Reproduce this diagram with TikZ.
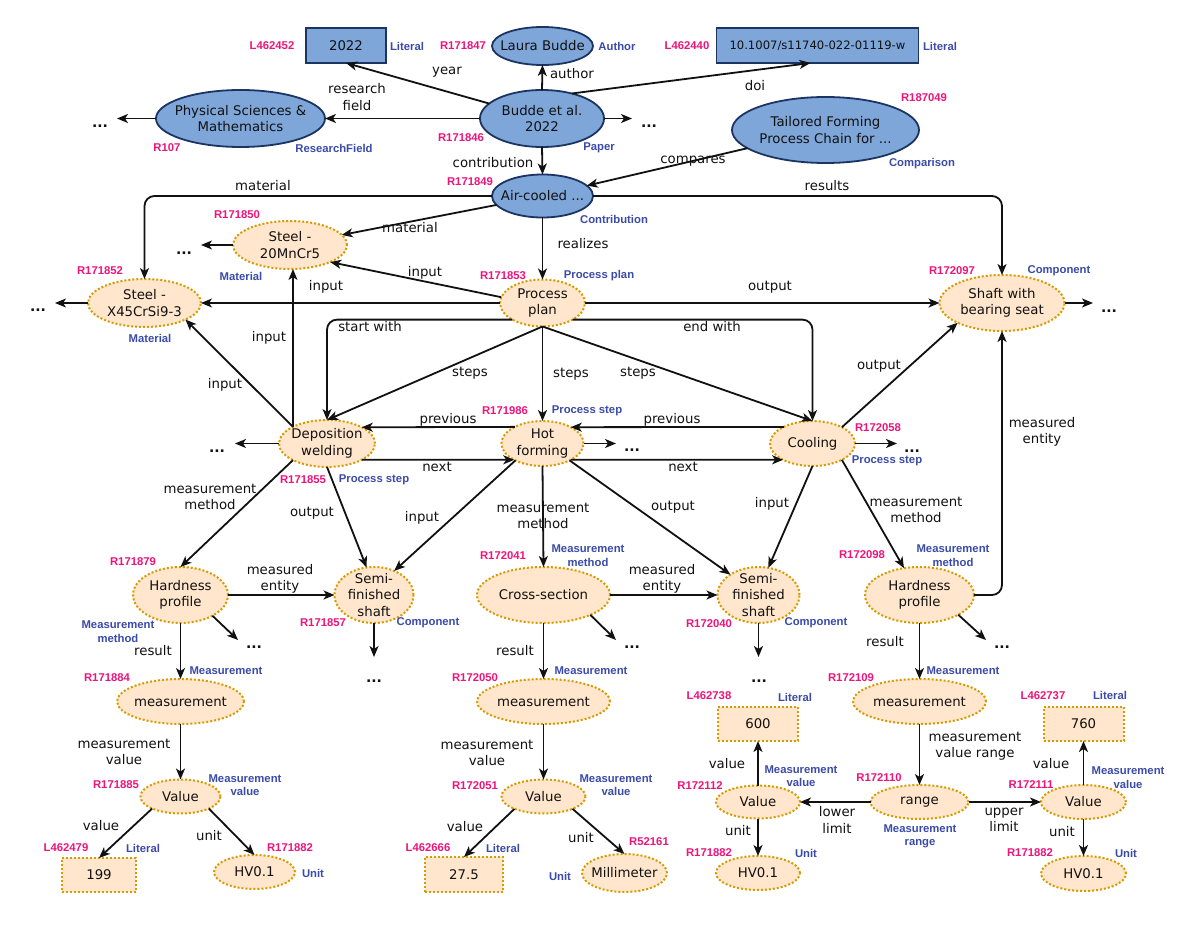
\documentclass[tikz,border=0pt]{standalone}
\usepackage{fontspec}
\setmainfont{DejaVu Sans}
\newfontfamily\idfont{Liberation Sans}
\usetikzlibrary{shapes.geometric,arrows.meta}
\definecolor{bfill}{HTML}{7EA6D9}
\definecolor{bdraw}{HTML}{1C3462}
\definecolor{ofill}{HTML}{FFE6CC}
\definecolor{odraw}{HTML}{D79B00}
\definecolor{idpink}{HTML}{EC157C}
\definecolor{clsblue}{HTML}{3B4BA8}
\definecolor{ink}{HTML}{111111}
\newcommand\mkn[7]{\node[#2, minimum width=#5, minimum height=#6] (#1) at (#3,#4) {}; \node[txt] (#1-t) at (#1.center) {#7};}
\begin{document}
\begin{tikzpicture}[x=1pt,y=-1pt,
  txt/.style={font=\fontsize{13.3}{16.5}\selectfont, align=center, inner sep=0pt, text=ink},
  lbl/.style={font=\fontsize{13.3}{16.5}\selectfont, align=center, inner sep=0pt, text=ink},
  rid/.style={font=\idfont\bfseries\fontsize{11.3}{13.5}\selectfont, text=idpink, inner sep=0pt},
  cls/.style={font=\idfont\bfseries\fontsize{11.3}{13.5}\selectfont, text=clsblue, inner sep=0pt, align=center},
  blueell/.style={ellipse, draw=bdraw, fill=bfill, line width=1.8pt, inner sep=0pt, outer sep=0pt},
  bluerect/.style={rectangle, draw=bdraw, fill=bfill, line width=1.8pt, inner sep=0pt, outer sep=0pt},
  orell/.style={ellipse, draw=odraw, fill=ofill, line width=2pt, dash pattern=on 2pt off 2pt, inner sep=0pt, outer sep=0pt},
  orrect/.style={rectangle, draw=odraw, fill=ofill, line width=2pt, dash pattern=on 2pt off 2pt, inner sep=0pt, outer sep=0pt},
  conn/.style={line width=1.8pt, draw=ink, -{Stealth[length=11pt,width=9pt,inset=3pt]}},
  dotsn/.style={font=\bfseries\fontsize{14}{14}\selectfont, inner sep=0pt, anchor=base, text=ink},
]
\useasboundingbox[fill=white] (0,0) rectangle (1200,925);

% ---------- blue nodes ----------
\mkn{y2022}{bluerect}{346}{45.5}{80}{35}{2022}
\mkn{laura}{blueell}{542.5}{46}{101}{38}{Laura Budde}
\mkn{doi}{bluerect}{817.5}{45.5}{202}{35}{\fontsize{11.6}{14}\selectfont 10.1007/s11740-022-01119-w}
\mkn{bud}{blueell}{542}{118.5}{124}{57}{Budde et al.\\2022}
\mkn{phys}{blueell}{240.5}{118.5}{169}{57}{Physical Sciences \&\\Mathematics}
\mkn{tail}{blueell}{825.5}{130}{187}{66}{Tailored Forming\\Process Chain for ...}
\mkn{air}{blueell}{542.5}{196}{101}{43}{Air-cooled ...}

% ---------- orange nodes ----------
\mkn{steel20}{orell}{290}{245}{114}{48}{Steel -\\20MnCr5}
\mkn{x45}{orell}{144.5}{303}{113}{48}{Steel -\\X45CrSi9-3}
\mkn{pp}{orell}{542.5}{303}{85}{47}{Process\\plan}
\mkn{shaft}{orell}{1002}{303}{125}{56}{Shaft with\\bearing seat}
\mkn{dep}{orell}{327}{443.5}{96}{47}{Deposition\\welding}
\mkn{hot}{orell}{542.5}{443.5}{82}{45}{Hot\\forming}
\mkn{cool}{orell}{812.5}{443.5}{85}{45}{Cooling}
\mkn{hp1}{orell}{180.5}{595}{95}{56}{Hardness\\profile}
\mkn{semi1}{orell}{374}{595}{79}{56}{Semi-\\finished\\shaft}
\mkn{cross}{orell}{543.5}{595}{133}{56}{Cross-section}
\mkn{semi2}{orell}{758.5}{595}{82}{56}{Semi-\\finished\\shaft}
\mkn{hp2}{orell}{919.5}{595}{109}{56}{Hardness\\profile}
\mkn{meas1}{orell}{180.5}{701.5}{127}{45}{measurement}
\mkn{meas2}{orell}{543.5}{701.5}{133}{45}{measurement}
\mkn{meas3}{orell}{919.5}{701.5}{133}{45}{measurement}
\mkn{val1}{orell}{180.5}{796.5}{80}{34}{Value}
\mkn{val2}{orell}{543.5}{796.5}{84}{34}{Value}
\mkn{val3}{orell}{758}{802}{84}{33}{Value}
\mkn{range}{orell}{919.5}{802}{98}{34}{range}
\mkn{val4}{orell}{1083.5}{802}{85}{34}{Value}
\mkn{lit199}{orrect}{99}{875}{74}{34}{199}
\mkn{lit275}{orrect}{464}{874.5}{78}{35}{27.5}
\mkn{lit600}{orrect}{758}{724}{80}{34}{600}
\mkn{lit760}{orrect}{1083.5}{724}{80}{34}{760}
\mkn{hv1}{orell}{254.5}{872}{81}{34}{HV0.1}
\mkn{mm}{orell}{624.5}{873}{85}{38}{Millimeter}
\mkn{hv2}{orell}{758}{873}{84}{34}{HV0.1}
\mkn{hv3}{orell}{1083.5}{873.5}{85}{35}{HV0.1}

% ---------- "..." nodes and arrow tips ----------
\node[dotsn] (dPh) at (100,127.5) {...};
\node[dotsn] (dBu) at (649,127.5) {...};
\node[dotsn] (dS20) at (184,254.5) {...};
\node[dotsn] (dX45) at (38,311.5) {...};
\node[dotsn] (dSh) at (1109,312.5) {...};
\node[dotsn] (dDe) at (217,452.5) {...};
\node[dotsn] (dHo) at (632,451.5) {...};
\node[dotsn] (dCo) at (912,452.5) {...};
\node[dotsn] (dH1) at (254,648.5) {...};
\node[dotsn] (dS1) at (374,682.5) {...};
\node[dotsn] (dCr) at (632,648.5) {...};
\node[dotsn] (dS2) at (759,682.5) {...};
\node[dotsn] (dH2) at (1002,648.5) {...};
\coordinate (tPh) at (117,118.5);
\coordinate (tBu) at (632,118.5);
\coordinate (tS20) at (201,245);
\coordinate (tX45) at (55,303);
\coordinate (tSh) at (1093,303);
\coordinate (tDe) at (235,443.5);
\coordinate (tHo) at (616,443.5);
\coordinate (tCo) at (897,443.5);
\coordinate (tH1) at (238,640);
\coordinate (tCr) at (616,640);
\coordinate (tH2) at (986,640);
\coordinate (tS1) at (374,657);
\coordinate (tS2) at (758.5,657);

% ---------- connectors ----------
\draw[conn] (bud) -- (y2022.south);
\draw[conn] (bud.north) -- (laura.south);
\draw[conn] (bud.40) -- ([xshift=-7pt]doi.south);
\draw[conn] (bud.west) -- (phys.east);
\draw[conn] (phys.west) -- (tPh);
\draw[conn] (bud.east) -- (tBu);
\draw[conn] (bud.south) -- (air.north);
\draw[conn] (tail) -- (air);
\draw[conn, rounded corners=10pt] (air.east) -| (shaft.north);
\draw[conn, rounded corners=10pt] (air.west) -| (x45.north);
\draw[conn] (air) -- (steel20);
\draw[conn] (steel20.west) -- (tS20);
\draw[conn] (x45.west) -- (tX45);
\draw[conn] (air.south) -- (pp.north);
\draw[conn] (pp.172) -- (steel20.-23);
\draw[conn] (pp.west) -- (x45.east);
\draw[conn] (pp.east) -- (shaft.west);
\draw[conn] (shaft.east) -- (tSh);
\draw[conn, rounded corners=10pt] (pp.209) -| (dep.north);
\draw[conn, rounded corners=10pt] (pp.331) -| (cool.north);
\draw[conn] (pp.south) -- (dep.north);
\draw[conn] (pp.south) -- (hot.north);
\draw[conn] (pp.south) -- (cool.north);
\draw[conn] (dep.154) -- (dep.154 |- steel20.south);
\draw[conn] (dep.154) -- (x45.-22);
\draw[conn] (hot.149.4) -- (dep.25.8);
\draw[conn] (dep.-25.8) -- (hot.210.6);
\draw[conn] (cool.150.3) -- (hot.30.6);
\draw[conn] (hot.-30.6) -- (cool.209.7);
\draw[conn] (dep.west) -- (tDe);
\draw[conn] (hot.east) -- (tHo);
\draw[conn] (cool.east) -- (tCo);
\draw[conn] (cool.29.7) -- (shaft.204);
\draw[conn, rounded corners=10pt] (hp2.east) -| (shaft.south);
\draw[conn] (dep.206) -- (hp1.north);
\draw[conn] (dep.south) -- (semi1.105);
\draw[conn] (hot.212) -- (semi1.50);
\draw[conn] (hot.south) -- (cross.north);
\draw[conn] (hot.-32) -- (semi2.144.5);
\draw[conn] (cool.south) -- (semi2.70);
\draw[conn] (cool.-29.7) -- (hp2.120);
\draw[conn] (hp1.east) -- (semi1.west);
\draw[conn] (cross.east) -- (semi2.west);
\draw[conn] (hp1.-33) -- (tH1);
\draw[conn] (cross.-23) -- (tCr);
\draw[conn] (hp2.-27.5) -- (tH2);
\draw[conn] (semi1.south) -- (tS1);
\draw[conn] (semi2.south) -- (tS2);
\draw[conn] (hp1.south) -- (meas1.north);
\draw[conn] (meas1.south) -- (val1.north);
\draw[conn] (val1.203) -- (lit199.north);
\draw[conn] (val1.-23) -- (hv1.north);
\draw[conn] (cross.south) -- (meas2.north);
\draw[conn] (meas2.south) -- (val2.north);
\draw[conn] (val2.203) -- (lit275.north);
\draw[conn] (val2.-23) -- (mm.north);
\draw[conn] (val3.north) -- (lit600.south);
\draw[conn] (val3.south) -- (hv2.north);
\draw[conn] (hp2.south) -- (meas3.north);
\draw[conn] (meas3.south) -- (range.north);
\draw[conn] (range.west) -- (val3.east);
\draw[conn] (range.east) -- (val4.west);
\draw[conn] (val4.north) -- (lit760.south);
\draw[conn] (val4.south) -- (hv3.north);

% ---------- connector labels ----------
\node[lbl] (l1) at (447,72) {year};
\node[lbl] (l2) at (572,74) {author};
\node[lbl] (l3) at (755,86) {doi};
\node[lbl] (l4) at (357,97) {research\\field};
\node[lbl] (l5) at (493,163) {contribution};
\node[lbl] (l6) at (693,161) {compares};
\node[lbl] (l7) at (263,186) {material};
\node[lbl] (l8) at (410,228) {material};
\node[lbl] (l9) at (827,186) {results};
\node[lbl] (l10) at (583,244) {realizes};
\node[lbl] (l11) at (425,273) {input};
\node[lbl] (l12) at (326,287) {input};
\node[lbl] (l13) at (770,287) {output};
\node[lbl] (l14) at (370,327) {start with};
\node[lbl] (l15) at (712,327) {end with};
\node[lbl] (l16) at (470,373) {steps};
\node[lbl] (l17) at (571,374) {steps};
\node[lbl] (l18) at (638,373) {steps};
\node[lbl] (l19) at (269,338) {input};
\node[lbl] (l20) at (225,385) {input};
\node[lbl] (l21) at (448,420) {previous};
\node[lbl] (l22) at (672,420) {previous};
\node[lbl] (l23) at (437,467) {next};
\node[lbl] (l24) at (683,467) {next};
\node[lbl] (l25) at (879,366) {output};
\node[lbl] (l26) at (1042,432) {measured\\entity};
\node[lbl] (l27) at (210,497) {measurement\\method};
\node[lbl] (l28) at (312,513) {output};
\node[lbl] (l29) at (422,518) {input};
\node[lbl] (l30) at (543,516) {measurement\\method};
\node[lbl] (l31) at (673,507) {output};
\node[lbl] (l32) at (772,504) {input};
\node[lbl] (l33) at (916,510) {measurement\\method};
\node[lbl] (l34) at (280,579) {measured\\entity};
\node[lbl] (l35) at (662,579) {measured\\entity};
\node[lbl] (l36) at (153,651) {result};
\node[lbl] (l37) at (515,651) {result};
\node[lbl] (l38) at (885,642) {result};
\node[lbl] (l39) at (124,752) {measurement\\value};
\node[lbl] (l40) at (487,753) {measurement\\value};
\node[lbl] (l41) at (975,746) {measurement\\value range};
\node[lbl] (l42) at (101,826) {value};
\node[lbl] (l43) at (209,836) {unit};
\node[lbl] (l44) at (465,827) {value};
\node[lbl] (l45) at (581,838) {unit};
\node[lbl] (l46) at (727,764) {value};
\node[lbl] (l47) at (738,831) {unit};
\node[lbl] (l48) at (837,820) {lower\\limit};
\node[lbl] (l49) at (1004,820) {upper\\limit};
\node[lbl] (l50) at (1051,764) {value};
\node[lbl] (l51) at (1062,832) {unit};

% ---------- identifiers ----------
\node[rid] (i1) at (272,46) {L462452};
\node[rid] (i2) at (463,46) {R171847};
\node[rid] (i3) at (687,46) {L462440};
\node[rid] (i4) at (461,138) {R171846};
\node[rid] (i5) at (167,148) {R107};
\node[rid] (i6) at (924,98) {R187049};
\node[rid] (i7) at (470,182) {R171849};
\node[rid] (i8) at (237,215) {R171850};
\node[rid] (i9) at (100,271) {R171852};
\node[rid] (i10) at (503,276) {R171853};
\node[rid] (i11) at (952,271) {R172097};
\node[rid] (i12) at (505,411) {R171986};
\node[rid] (i13) at (303,480) {R171855};
\node[rid] (i14) at (878,428) {R172058};
\node[rid] (i15) at (133,562) {R171879};
\node[rid] (i16) at (323,623) {R171857};
\node[rid] (i17) at (503,556) {R172041};
\node[rid] (i18) at (709,624) {R172040};
\node[rid] (i19) at (862,555) {R172098};
\node[rid] (i20) at (107,678) {R171884};
\node[rid] (i21) at (475,678) {R172050};
\node[rid] (i22) at (851,678) {R172109};
\node[rid] (i23) at (116,785) {R171885};
\node[rid] (i24) at (66,848) {L462479};
\node[rid] (i25) at (290,848) {R171882};
\node[rid] (i26) at (475,786) {R172051};
\node[rid] (i27) at (428,848) {L462666};
\node[rid] (i28) at (649,842) {R52161};
\node[rid] (i29) at (709,696) {L462738};
\node[rid] (i30) at (700,786) {R172112};
\node[rid] (i31) at (709,853) {R171882};
\node[rid] (i32) at (1043,696) {L462737};
\node[rid] (i33) at (879,778) {R172110};
\node[rid] (i34) at (1031,785) {R172111};
\node[rid] (i35) at (1030,853) {R171882};

% ---------- classes ----------
\node[cls] (c1) at (407,46) {Literal};
\node[cls] (c2) at (617,46) {Author};
\node[cls] (c3) at (940,46) {Literal};
\node[cls] (c4) at (599,148) {Paper};
\node[cls] (c5) at (334,148) {ResearchField};
\node[cls] (c6) at (922,164) {Comparison};
\node[cls] (c7) at (614,219) {Contribution};
\node[cls] (c8) at (241,276) {Material};
\node[cls] (c9) at (150,338) {Material};
\node[cls] (c10) at (599,276) {Process plan};
\node[cls] (c11) at (1059,271) {Component};
\node[cls] (c12) at (587,411) {Process step};
\node[cls] (c13) at (374,480) {Process step};
\node[cls] (c14) at (887,461) {Process step};
\node[cls] (c15) at (118,631.5) {Measurement\\method};
\node[cls] (c16) at (428,623) {Component};
\node[cls] (c17) at (588,555.5) {Measurement\\method};
\node[cls] (c18) at (816,623) {Component};
\node[cls] (c19) at (953,555.5) {Measurement\\method};
\node[cls] (c20) at (226,671) {Measurement};
\node[cls] (c21) at (591,671) {Measurement};
\node[cls] (c22) at (963,671) {Measurement};
\node[cls] (c23) at (245,785) {Measurement\\value};
\node[cls] (c24) at (143,848) {Literal};
\node[cls] (c25) at (313,873) {Unit};
\node[cls] (c26) at (616,785) {Measurement\\value};
\node[cls] (c27) at (503,848) {Literal};
\node[cls] (c28) at (560,876) {Unit};
\node[cls] (c29) at (795,697) {Literal};
\node[cls] (c30) at (801,776) {Measurement\\value};
\node[cls] (c31) at (806,853) {Unit};
\node[cls] (c32) at (1110,695) {Literal};
\node[cls] (c33) at (920,836.5) {Measurement\\range};
\node[cls] (c34) at (1128,777.5) {Measurement\\value};
\node[cls] (c35) at (1126,853) {Unit};
\end{tikzpicture}
\end{document}
